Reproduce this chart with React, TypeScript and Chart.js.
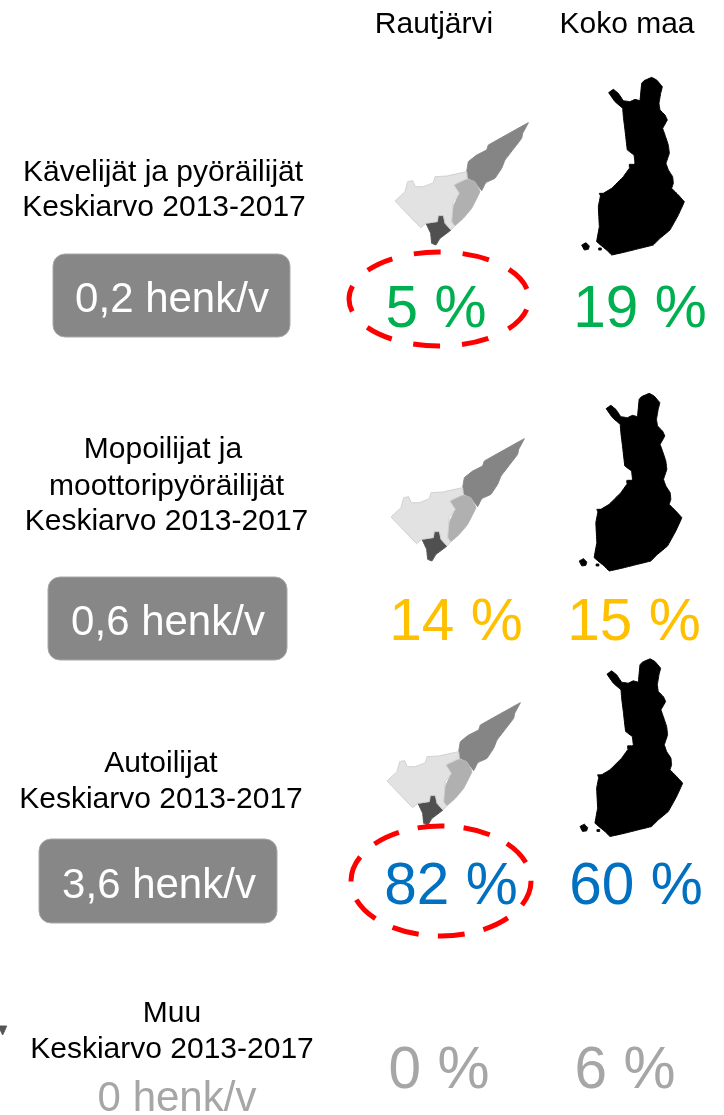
import React, { useEffect, useRef } from "react";
import { Chart, registerables } from "chart.js";

Chart.register(...registerables);

const headers = ["Rautjärvi", "Koko maa"];
const groupLabels = [
  ["Kävelijät ja pyöräilijät", "Keskiarvo 2013-2017"],
  ["Mopoilijat ja", "moottoripyöräilijät", "Keskiarvo 2013-2017"],
  ["Autoilijat", "Keskiarvo 2013-2017"],
  ["Muu", "Keskiarvo 2013-2017"],
];
const henkPerYear = ["0,2", "0,6", "3,6", "0"];
const rautjarviShare = [5, 14, 82, 0];
const kokoMaaShare = [19, 15, 60, 6];
const shareColors = ["#00B050", "#FFC000", "#0070C0", "#A6A6A6"];

type P = [number, number];
// Outlines, in units of a third of a pixel
const rautLight: P[] = [[165,423],[195,395],[203,365],[218,362],[226,380],[250,380],[280,368],[285,350],[320,348],[380,335],[382,355],[342,375],[358,400],[340,425],[335,490],[345,497],[333,510],[315,490],[310,467],[295,467],[292,485],[258,490],[242,503]];
const rautMid: P[] = [[342,375],[382,358],[405,365],[420,395],[395,445],[370,475],[345,497],[335,482],[340,440],[358,400]];
const rautUpper: P[] = [[380,335],[385,305],[410,285],[440,270],[445,255],[565,188],[548,220],[545,235],[495,300],[485,325],[465,355],[437,368],[425,392],[405,365],[380,352]];
const rautDark: P[] = [[258,490],[292,485],[295,467],[310,467],[315,490],[333,510],[300,535],[288,555],[275,550],[272,520]];
const finland: P[] = [[806,98],[820,88],[835,100],[850,122],[870,125],[885,118],[900,122],[905,70],[912,62],[935,52],[950,60],[967,80],[962,100],[957,130],[960,150],[975,165],[982,180],[968,205],[975,225],[985,255],[988,280],[978,310],[985,330],[998,350],[1000,370],[995,385],[1015,405],[1033,425],[1015,465],[990,510],[960,535],[940,555],[900,565],[860,575],[815,585],[800,570],[770,545],[778,500],[775,440],[782,405],[815,385],[850,350],[868,325],[885,310],[882,285],[862,270],[855,210],[850,170],[848,145],[825,125]];
const finlandIsle: P[] = [[725,555],[738,548],[748,558],[745,568],[733,570]];
const finlandSkerry: P[] = [[778,400],[790,400],[788,406],[780,406]];
const finlandSkerry2: P[] = [[868,313],[880,313],[880,322],[868,322]];
const finlandSkerry3: P[] = [[776,564],[784,564],[784,570],[776,570]];
const cornerMark: P[] = [[0,138],[20,138],[8,165],[0,148]];

const mapRows = {
  raut: [[0, 0], [-4, 316], [-8, 580]] as P[],
  koko: [[0, 0], [-2.5, 316], [-1.7, 581.5]] as P[],
};

const toPoints = (poly: P[], off: P, baseX: number, baseY: number) =>
  [...poly, poly[0]].map(([x, y]) => ({ x: baseX + x / 3 + off[0], y: baseY + y / 3 + off[1] }));

const shape = (poly: P[], off: P, fill: string, border = fill) => ({
  type: "line" as const,
  data: toPoints(poly, off, 340, 60),
  backgroundColor: fill,
  borderColor: border,
  borderWidth: 1,
  pointRadius: 0,
  tension: 0.02,
  fill: "shape",
});

const F = '"Liberation Sans", Arial, sans-serif';

const texts = (): { t: string; x: number; y: number; s: number; c: string }[] => {
  const out: { t: string; x: number; y: number; s: number; c: string }[] = [];
  out.push({ t: headers[0], x: 434, y: 33, s: 30, c: "#000" });
  out.push({ t: headers[1], x: 627, y: 33, s: 30, c: "#000" });
  const labelPos = [
    [[163, 181], [164, 216]],
    [[163, 458], [166.5, 495], [166.5, 530]],
    [[161, 772], [161, 808]],
    [[172, 1022], [172, 1058]],
  ];
  groupLabels.forEach((lines, i) =>
    lines.forEach((t, j) => out.push({ t, x: labelPos[i][j][0], y: labelPos[i][j][1], s: 30, c: "#000" })));
  const henkPos = [[172, 312], [168, 635], [159, 898], [177, 1111]];
  henkPerYear.forEach((v, i) =>
    out.push({ t: `${v} henk/v`, x: henkPos[i][0], y: henkPos[i][1], s: 42, c: i === 3 ? "#A6A6A6" : "#fff" }));
  const rautPos = [[436, 327], [456, 640], [451, 904], [439, 1088]];
  const kokoPos = [[640, 327], [634, 640], [636, 904], [625, 1088]];
  rautjarviShare.forEach((v, i) =>
    out.push({ t: `${v} %`, x: rautPos[i][0], y: rautPos[i][1], s: 58.5, c: shareColors[i] }));
  kokoMaaShare.forEach((v, i) =>
    out.push({ t: `${v} %`, x: kokoPos[i][0], y: kokoPos[i][1], s: 58.5, c: shareColors[i] }));
  return out;
};

const boxes = [
  [53, 254, 290, 337],
  [48, 577, 287, 660],
  [39, 839, 277, 923],
];
const rings = [
  { cx: 439, cy: 299, rx: 90, ry: 47, dash: 27, gap: 22, off: 38 },
  { cx: 441, cy: 881, rx: 90, ry: 55, dash: 27, gap: 19.2, off: 47 },
];

const overlay = {
  id: "overlay",
  beforeDatasetsDraw(chart: any) {
    const { ctx, scales } = chart;
    const X = (v: number) => scales.x.getPixelForValue(v);
    const Y = (v: number) => scales.y.getPixelForValue(v);
    ctx.save();
    boxes.forEach(([a, b, c, d]) => {
      ctx.beginPath();
      ctx.roundRect(X(a), Y(b), X(c) - X(a), Y(d) - Y(b), 12);
      ctx.fillStyle = "#878787";
      ctx.fill();
      ctx.strokeStyle = "#a8a8a8";
      ctx.lineWidth = 1;
      ctx.stroke();
    });
    ctx.restore();
  },
  afterDatasetsDraw(chart: any) {
    const { ctx, scales } = chart;
    const X = (v: number) => scales.x.getPixelForValue(v);
    const Y = (v: number) => scales.y.getPixelForValue(v);
    ctx.save();
    ctx.textAlign = "center";
    ctx.textBaseline = "alphabetic";
    texts().forEach(({ t, x, y, s, c }) => {
      ctx.font = `${s}px ${F}`;
      ctx.fillStyle = c;
      ctx.fillText(t, X(x), Y(y));
    });
    rings.forEach(({ cx, cy, rx, ry, dash, gap, off }) => {
      ctx.beginPath();
      ctx.ellipse(X(cx), Y(cy), rx, ry, 0, 0, Math.PI * 2);
      ctx.setLineDash([dash, gap]);
      ctx.lineDashOffset = off;
      ctx.strokeStyle = "#FF0000";
      ctx.lineWidth = 5;
      ctx.stroke();
    });
    ctx.restore();
  },
};

export default function App() {
  const ref = useRef<HTMLCanvasElement>(null);
  useEffect(() => {
    const datasets: any[] = [];
    mapRows.raut.forEach((o) => {
      datasets.push(shape(rautLight, o, "#E2E2E2", "#CFCFCF"));
      datasets.push(shape(rautMid, o, "#B0B0B0"));
      datasets.push(shape(rautUpper, o, "#858585"));
      datasets.push(shape(rautDark, o, "#505050"));
    });
    mapRows.koko.forEach((o) => {
      [finland, finlandIsle, finlandSkerry, finlandSkerry2, finlandSkerry3].forEach((p) => datasets.push(shape(p, o, "#000000")));
    });
    datasets.push({
      ...shape(cornerMark, [0, 0], "#555555"),
      data: toPoints(cornerMark, [0, 0], 0, 980),
    });
    const chart = new Chart(ref.current!, {
      type: "line",
      data: { datasets },
      plugins: [overlay],
      options: {
        animation: false,
        responsive: false,
        events: [],
        layout: { padding: 0 },
        plugins: { legend: { display: false }, tooltip: { enabled: false }, title: { display: false } },
        scales: {
          x: { type: "linear", display: false, min: 0, max: 724 },
          y: { type: "linear", display: false, min: 0, max: 1115, reverse: true },
        },
      },
    } as any);
    return () => chart.destroy();
  }, []);
  return (
    <canvas
      ref={ref}
      width={724}
      height={1115}
      style={{ position: "absolute", left: 0, top: 0, width: 724, height: 1115, display: "block" }}
    />
  );
}
